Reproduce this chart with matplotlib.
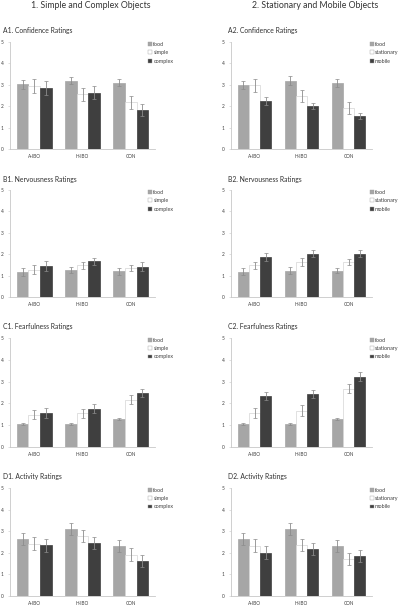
import matplotlib
matplotlib.use("Agg")
import matplotlib.pyplot as plt
import numpy as np

groups = ["A-IBO", "H-IBO", "CON"]
series1 = ["food", "simple", "complex"]
series2 = ["food", "stationary", "mobile"]
main_titles = ["1. Simple and Complex Objects", "2. Stationary and Mobile Objects"]
panel_titles = {
    "A1": "A1. Confidence Ratings", "A2": "A2. Confidence Ratings",
    "B1": "B1. Nervousness Ratings", "B2": "B2. Nervousness Ratings",
    "C1": "C1. Fearfulness Ratings", "C2": "C2. Fearfulness Ratings",
    "D1": "D1. Activity Ratings", "D2": "D2. Activity Ratings",
}

# values: rows = groups, cols = series
A1_mean = [[3.02, 2.94, 2.86], [3.20, 2.55, 2.63], [3.10, 2.18, 1.81]]
A1_err = [[0.21, 0.33, 0.32], [0.17, 0.30, 0.30], [0.17, 0.30, 0.28]]
A2_mean = [[3.00, 2.98, 2.24], [3.20, 2.48, 2.00], [3.09, 1.93, 1.55]]
A2_err = [[0.20, 0.30, 0.17], [0.20, 0.30, 0.15], [0.17, 0.28, 0.15]]
B1_mean = [[1.16, 1.28, 1.44], [1.25, 1.48, 1.66], [1.20, 1.36, 1.42]]
B1_err = [[0.18, 0.20, 0.22], [0.15, 0.15, 0.18], [0.17, 0.15, 0.20]]
B2_mean = [[1.18, 1.48, 1.87], [1.23, 1.64, 2.03], [1.23, 1.64, 2.03]]
B2_err = [[0.17, 0.17, 0.17], [0.17, 0.17, 0.18], [0.12, 0.15, 0.17]]
C1_mean = [[1.05, 1.49, 1.57], [1.06, 1.54, 1.75], [1.28, 2.17, 2.48]]
C1_err = [[0.05, 0.22, 0.22], [0.06, 0.20, 0.20], [0.05, 0.20, 0.20]]
C2_mean = [[1.05, 1.56, 2.34], [1.05, 1.66, 2.45], [1.27, 2.68, 3.22]]
C2_err = [[0.06, 0.25, 0.18], [0.06, 0.25, 0.18], [0.05, 0.22, 0.20]]
D1_mean = [[2.64, 2.41, 2.36], [3.10, 2.79, 2.45], [2.30, 1.90, 1.62]]
D1_err = [[0.27, 0.30, 0.30], [0.26, 0.28, 0.27], [0.27, 0.30, 0.28]]
D2_mean = [[2.65, 2.32, 2.01], [3.11, 2.38, 2.18], [2.31, 1.72, 1.87]]
D2_err = [[0.27, 0.30, 0.30], [0.27, 0.28, 0.28], [0.27, 0.28, 0.28]]

data = {
    "A1": (A1_mean, A1_err), "A2": (A2_mean, A2_err),
    "B1": (B1_mean, B1_err), "B2": (B2_mean, B2_err),
    "C1": (C1_mean, C1_err), "C2": (C2_mean, C2_err),
    "D1": (D1_mean, D1_err), "D2": (D2_mean, D2_err),
}

FONT = "Lato"
colors = ["#a6a6a6", "#ffffff", "#3f3f3f"]
edgecols = ["#a6a6a6", "#d4d4d4", "#3f3f3f"]

W, H = 400, 607
fig = plt.figure(figsize=(W / 100, H / 100), dpi=100)
renderer = fig.canvas.get_renderer()

def fx(px):
    return px / W

def fy(py):
    return 1 - py / H

def size_for(s, target_px, base=10.0):
    t = fig.text(0, 0, s, fontsize=base, family=FONT)
    w = t.get_window_extent(renderer=renderer).width
    t.remove()
    return base * target_px / w

# measured extents in the reference (pixels)
tfs = 0.5 * (size_for(main_titles[0], 114) + size_for(main_titles[1], 134))
panel_fs = size_for("A1. Confidence Ratings", 70)
cat_fs = size_for("A-IBO", 13)
leg_fs = size_for("complex", 20)
tick_fs = cat_fs

fig.text(fx(91), fy(6), main_titles[0], ha="center", va="center",
         fontsize=tfs, color="#333333", family=FONT)
fig.text(fx(315), fy(6), main_titles[1], ha="center", va="center",
         fontsize=tfs, color="#333333", family=FONT)

rows = [("A", 42, 149), ("B", 190, 297), ("C", 338, 447), ("D", 488, 596)]
cols = [(1, 10, 155, 3), (2, 231, 372, 228)]

bw = 0.24
x = np.arange(len(groups))
for r, top, bot in rows:
    for c, left, right, tx in cols:
        key = f"{r}{c}"
        mean, err = data[key]
        mean = np.array(mean)
        err = np.array(err)
        ax = fig.add_axes([fx(left), fy(bot), fx(right - left), fy(top) - fy(bot)])
        names = series1 if c == 1 else series2
        handles = []
        for j in range(3):
            xs = x + (j - 1) * bw
            b = ax.bar(xs, mean[:, j], width=bw, color=colors[j], edgecolor=edgecols[j],
                       linewidth=0.5, label=names[j], zorder=2)
            ax.errorbar(xs, mean[:, j], yerr=err[:, j], fmt="none", ecolor="#8c8c8c",
                        elinewidth=0.6, capsize=1.2, capthick=0.5, zorder=3)
            handles.append(b)
        ax.set_xlim(-0.5, 2.5)
        ax.set_ylim(0, 5)
        ax.set_yticks([0, 1, 2, 3, 4, 5])
        ax.set_xticks(x)
        ax.set_xticklabels(groups, family=FONT)
        for lab in ax.get_yticklabels():
            lab.set_family(FONT)
        for s in ["top", "right"]:
            ax.spines[s].set_visible(False)
        for s in ["left", "bottom"]:
            ax.spines[s].set_color("#c8c8c8")
            ax.spines[s].set_linewidth(0.6)
        ax.tick_params(axis="y", labelsize=tick_fs, length=1.5, width=0.4, color="#c8c8c8",
                       pad=3, labelcolor="#404040")
        ax.tick_params(axis="x", labelsize=cat_fs, length=0, pad=3.5, labelcolor="#404040")
        ax.patch.set_alpha(0)
        leg = ax.legend(handles=handles, labels=names, loc="upper left",
                        bbox_to_anchor=(0.94 if c == 1 else 0.97, 1.02),
                        frameon=False, prop={"family": FONT, "size": leg_fs},
                        handlelength=0.7, handleheight=0.7,
                        handletextpad=0.2, labelspacing=0.6, borderaxespad=0)
        for h in leg.legend_handles:
            h.set_edgecolor("#a0a0a0")
            h.set_linewidth(0.3)
        for t in leg.get_texts():
            t.set_color("#404040")
        fig.text(fx(tx), fy(top - 11), panel_titles[key], ha="left", va="center",
                 fontsize=panel_fs, color="#303030", family=FONT)

fig.savefig("out.png", dpi=100)
